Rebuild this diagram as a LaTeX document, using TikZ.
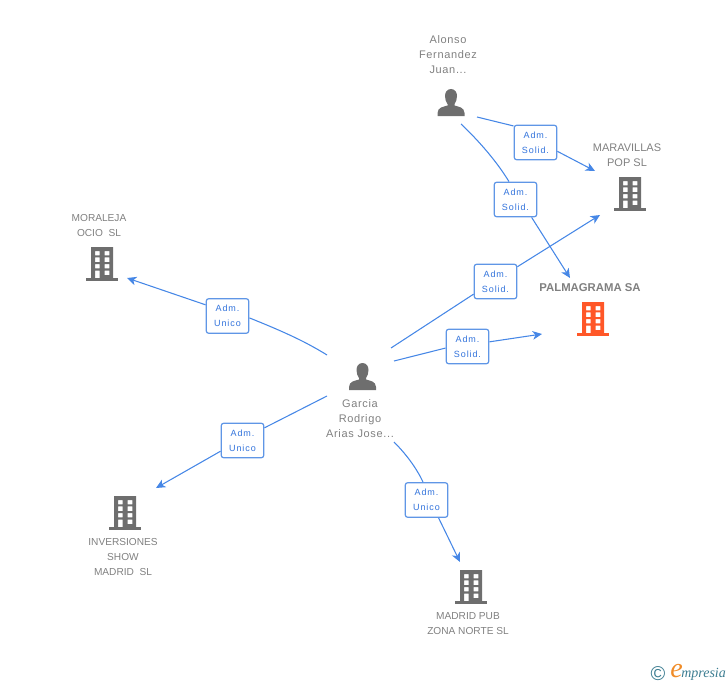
\documentclass[tikz,border=0pt]{standalone}
\usepackage{fontspec}
\setmainfont{Liberation Sans}
\newfontfamily\admfont[LetterSpace=10]{Liberation Sans}
\newfontfamily\personfont[LetterSpace=6]{Liberation Sans}
\newfontfamily\logofont{Liberation Serif}
\usetikzlibrary{arrows.meta}
\definecolor{linkblue}{RGB}{70,135,230}
\definecolor{boxblue}{RGB}{95,150,230}
\definecolor{admblue}{RGB}{50,115,220}
\definecolor{labelgray}{RGB}{128,128,128}
\definecolor{icongray}{RGB}{110,110,110}
\definecolor{mainorange}{RGB}{255,87,40}
\definecolor{logoteal}{RGB}{60,125,145}
\definecolor{logoorange}{RGB}{240,140,40}
\tikzset{
  link/.style={draw=linkblue,line width=0.8pt},
  linkarrow/.style={link,-{Stealth[length=7pt,width=6.5pt,inset=2pt]}},
  admbox/.style={draw=boxblue,line width=0.9pt,fill=white,rounded corners=2pt,
    minimum width=32pt,minimum height=26pt,inner sep=0pt,align=center,text=admblue,
    font=\admfont\fontsize{6.75}{11.25}\selectfont},
  entity/.style={align=center,text=labelgray,inner sep=0pt,
    font=\fontsize{7.6}{11.25}\selectfont},
  human/.style={entity,font=\personfont\fontsize{8.25}{11.25}\selectfont},
  pics/company/.style={code={
    \fill[#1,even odd rule] (-11,34) rectangle (11,3)
      (-7,30) rectangle (-2.4,25.7) (2.7,30) rectangle (7.3,25.7)
      (-7,23.7) rectangle (-2.4,19) (2.7,23.7) rectangle (7.3,19)
      (-7,17) rectangle (-2.4,12.7) (2.7,17) rectangle (7.3,12.7)
      (-7,10.3) rectangle (-2.4,3) (2.7,10.3) rectangle (7.3,6);
    \fill[#1] (-16,3) rectangle (16,0);
  }},
  pics/person/.style={code={
    \fill[icongray] (0,27) .. controls (-4,27) and (-6,23.5) .. (-6,20)
      .. controls (-6,16.5) and (-5,14) .. (-3.5,12) -- (-3.5,10.5)
      .. controls (-8,9) and (-13,9) .. (-13.5,3) -- (-13.5,0) -- (13.5,0) -- (13.5,3)
      .. controls (13,9) and (8,9) .. (3.5,10.5) -- (3.5,12)
      .. controls (5,14) and (6,16.5) .. (6,20)
      .. controls (6,23.5) and (4,27) .. (0,27) -- cycle;
  }}
}
\begin{document}
\begin{tikzpicture}[x=0.75pt,y=0.75pt,yscale=-1,xscale=1]
  \useasboundingbox (0,0) rectangle (728,685);
  % people
  \pic at (451,116) {person};
  \pic at (362.5,390) {person};
  \node[human] (alonso) at (448,55) {Alonso\\Fernandez\\Juan...};
  \node[human] (garcia) at (360,419) {Garcia\\Rodrigo\\Arias Jose...};
  % companies
  \pic at (630,211) {company=icongray};
  \pic at (593,336) {company=mainorange};
  \pic at (102,281) {company=icongray};
  \pic at (125,530) {company=icongray};
  \pic at (471,604) {company=icongray};
  \node[entity,font=\fontsize{8.25}{11.25}\selectfont] (maravillas) at (627,155.5) {MARAVILLAS\\POP SL};
  \node[entity,font=\bfseries\fontsize{8.5}{11.25}\selectfont] (palmagrama) at (590,288) {PALMAGRAMA SA};
  \node[entity] (moraleja) at (99,225.5) {MORALEJA\\OCIO\ \ SL};
  \node[entity] (inversiones) at (123,557) {INVERSIONES\\SHOW\\MADRID\ \ SL};
  \node[entity] (madridpub) at (468,623.5) {MADRID PUB\\ZONA NORTE SL};
  % free ends of the links
  \coordinate (alonsoA) at (477,117);
  \coordinate (alonsoB) at (461,124);
  \coordinate (garciaC) at (391,348);
  \coordinate (garciaD) at (394,361);
  \coordinate (garciaE) at (327,355);
  \coordinate (garciaF) at (327,396);
  \coordinate (garciaG) at (394,442);
  \coordinate (toMaravillasA) at (595,171);
  \coordinate (toMaravillasC) at (600,215);
  \coordinate (toPalmagramaB) at (570,278);
  \coordinate (toPalmagramaD) at (542,334);
  \coordinate (toMoraleja) at (127,278);
  \coordinate (toInversiones) at (156,488);
  \coordinate (toMadridpub) at (460,562);
  % role boxes
  \node[admbox] (admA) at (535.5,142.5) {Adm.\\Solid.};
  \node[admbox] (admB) at (515.5,199.5) {Adm.\\Solid.};
  \node[admbox] (admC) at (495.5,281.5) {Adm.\\Solid.};
  \node[admbox] (admD) at (467.5,346.5) {Adm.\\Solid.};
  \node[admbox] (admE) at (227.5,316) {Adm.\\Unico};
  \node[admbox] (admF) at (242.5,440.5) {Adm.\\Unico};
  \node[admbox] (admG) at (426.5,500) {Adm.\\Unico};
  % links
  \draw[link] (alonsoA) -- (admA.143);
  \draw[linkarrow] (admA.-22) -- (toMaravillasA);
  \draw[link] (alonsoB) .. controls (480,142) and (497,162) .. (admB.110);
  \draw[linkarrow] (admB.-48) -- (toPalmagramaB);
  \draw[link] (garciaC) -- (admC.210);
  \draw[linkarrow] (admC.34) -- (toMaravillasC);
  \draw[link] (garciaD) -- (admD.184);
  \draw[linkarrow] (admD.12) -- (toPalmagramaD);
  \draw[link] (garciaE) .. controls (303,340) and (277,329) .. (admE.-5);
  \draw[linkarrow] (admE.153) -- (toMoraleja);
  \draw[link] (garciaF) -- (admF.30);
  \draw[linkarrow] (admF.206) -- (toInversiones);
  \draw[link] (garciaG) .. controls (405,453) and (416,467) .. (admG.101);
  \draw[linkarrow] (admG.-56) -- (toMadridpub);
  % logo
  \node[text=logoteal,inner sep=0pt,font=\fontsize{15}{15}\selectfont] (copyright) at (658,674) {©};
  \node[text=logoorange,inner sep=0pt,font=\logofont\itshape\fontsize{21}{21}\selectfont] (logoe) at (676.5,671) {e};
  \node[text=logoteal,inner sep=0pt,font=\logofont\itshape\fontsize{10.5}{10.5}\selectfont,anchor=west] (logotext) at (681,674) {mpresia};
\end{tikzpicture}
\end{document}
